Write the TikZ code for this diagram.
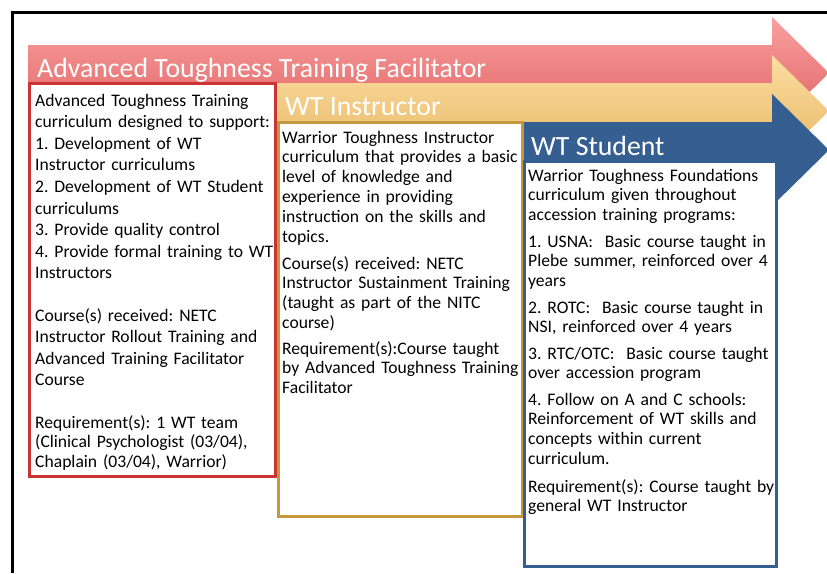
\documentclass[tikz,border=0pt]{standalone}
\usepackage{fontspec}
\setmainfont{Carlito}
\usetikzlibrary{calc}
\frenchspacing
\definecolor{atfred}{RGB}{204,51,51}
\definecolor{atftop}{RGB}{250,160,160}
\definecolor{atfbot}{RGB}{222,96,96}
\definecolor{wtigold}{RGB}{198,152,62}
\definecolor{wtitop}{RGB}{252,222,162}
\definecolor{wtibot}{RGB}{228,180,96}
\definecolor{wtsblue}{RGB}{54,95,145}
\def\drawbox{\draw[line width=3pt,fill=white]}

\begin{document}
\begin{tikzpicture}[x=1pt,y=-1pt,
  title/.style={anchor=base west,inner sep=0,text=white,font=\fontsize{27.8}{30}\selectfont},
  para/.style={anchor=base west,inner sep=0,text width=262pt,align=left,font=\fontsize{17.6}{21.6}\selectfont},
  tightpara/.style={para,font=\fontsize{17.6}{19.8}\selectfont}]
\useasboundingbox (0,0) rectangle (827,573);

% outer frame, cut by the page on the right and at the bottom
\coordinate (framebl) at (12.5,573);
\coordinate (frametl) at (12.5,12.5);
\coordinate (frametr) at (827,12.5);
\draw[line width=3pt] (framebl) -- (frametl) -- (frametr);

% -------- arrows ---------
% each arrow: body of height 56, head from 28 above to 28 below the body
\shade[top color=atftop,bottom color=atfbot] (28,45) -- (772,45) -- (772,17) -- (829,73)
  -- (772,129) -- (772,101) -- (28,101) -- cycle;
\shade[top color=wtitop,bottom color=wtibot] (276,83) -- (772,83) -- (772,55) -- (829,111)
  -- (772,167) -- (772,139) -- (276,139) -- cycle;
\fill[wtsblue] (522,122) -- (772,122) -- (772,94) -- (829,150)
  -- (772,206) -- (772,178) -- (522,178) -- cycle;

% -------- boxes ---------
\drawbox[draw=atfred] (29.5,83.5) rectangle (275.5,476.5);
\drawbox[draw=wtigold] (278.5,122.5) rectangle (522.5,516.5);
\drawbox[draw=wtsblue] (524.5,161.5) rectangle (776.5,566.5);

% -------- titles ---------
\node[title] (atftitle) at (37,77) {Advanced Toughness Training Facilitator};
\node[title] (wtititle) at (285,115) {WT Instructor};
\node[title] (wtstitle) at (531,155) {WT Student};

% -------- facilitator text ---------
\node[para] (atfaim) at (35,106) {Advanced Toughness Training\\
  curriculum designed to support:\\
  1. Development of WT\\
  Instructor curriculums\\
  2. Development of WT Student\\
  curriculums\\
  3. Provide quality control\\
  4. Provide formal training to WT\\
  Instructors};
\node[para] (atfcourse) at (35,321) {Course(s) received: NETC\\
  Instructor Rollout Training and\\
  Advanced Training Facilitator\\
  Course};
\node[tightpara] (atfreq) at (35,428) {Requirement(s): 1 WT team\\
  (Clinical Psychologist (03/04),\\
  Chaplain (03/04), Warrior)};

% -------- instructor text ---------
\node[tightpara] (wtiaim) at (282,143) {Warrior Toughness Instructor\\
  curriculum that provides a basic\\
  level of knowledge and\\
  experience in providing\\
  instruction on the skills and\\
  topics.};
\node[tightpara] (wticourse) at (282,269) {Course(s) received: NETC\\
  Instructor Sustainment Training\\
  (taught as part of the NITC\\
  course)};
\node[tightpara] (wtireq) at (282,354) {Requirement(s):Course taught\\
  by Advanced Toughness Training\\
  Facilitator};

% -------- student text ---------
\node[tightpara] (wtsaim) at (528,181) {Warrior Toughness Foundations\\
  curriculum given throughout\\
  accession training programs:};
\node[tightpara] (wtsusna) at (528,247) {1. USNA:\ \ Basic course taught in\\
  Plebe summer, reinforced over 4\\
  years};
\node[tightpara] (wtsrotc) at (528,313) {2. ROTC:\ \ Basic course taught in\\
  NSI, reinforced over 4 years};
\node[tightpara] (wtsrtc) at (528,359) {3. RTC/OTC:\ \ Basic course taught\\
  over accession program};
\node[tightpara] (wtsfollow) at (528,405) {4. Follow on A and C schools:\\
  Reinforcement of WT skills and\\
  concepts within current\\
  curriculum.};
\node[tightpara] (wtsreq) at (528,492) {Requirement(s): Course taught by\\
  general WT Instructor};
\end{tikzpicture}
\end{document}
